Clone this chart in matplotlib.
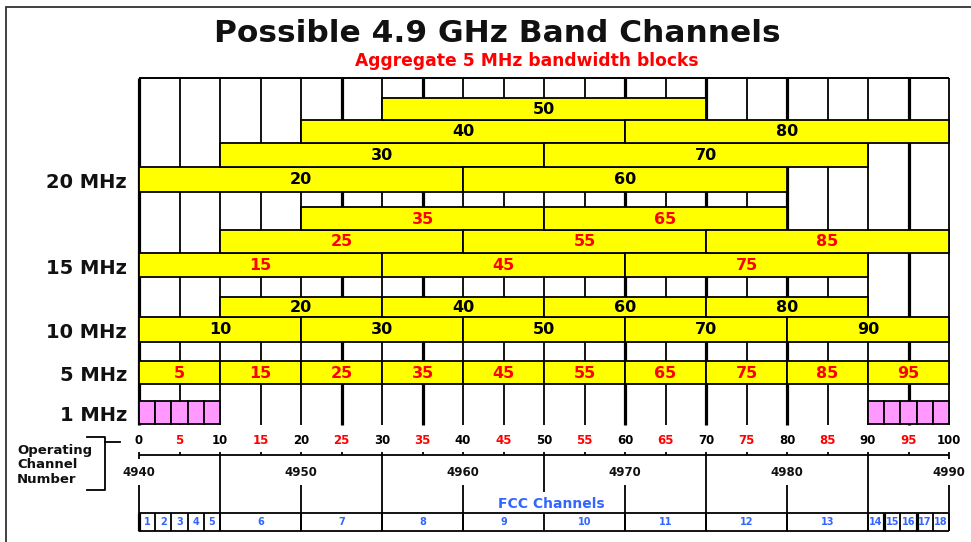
import matplotlib
matplotlib.use('Agg')
import matplotlib.pyplot as plt

plt.rcParams['font.family'] = ['DejaVu Sans']

# ---------------- data ----------------
title = "Possible 4.9 GHz Band Channels"
subtitle = "Aggregate 5 MHz bandwidth blocks"
bw_labels = ["20 MHz", "15 MHz", "10 MHz", "5 MHz", "1 MHz"]
bandwidths_mhz = [20, 15, 10, 5, 1]

ch20 = [20, 30, 40, 50, 60, 70, 80]
ch15 = [15, 25, 35, 45, 55, 65, 75, 85]
ch10 = [10, 20, 30, 40, 50, 60, 70, 80, 90]
ch5 = [5, 15, 25, 35, 45, 55, 65, 75, 85, 95]
ch1 = [1, 3, 5, 7, 9, 91, 93, 95, 97, 99]

op_ticks = [0, 5, 10, 15, 20, 25, 30, 35, 40, 45, 50,
            55, 60, 65, 70, 75, 80, 85, 90, 95, 100]
op_tick_labels = ["0", "5", "10", "15", "20", "25", "30", "35", "40", "45", "50",
                  "55", "60", "65", "70", "75", "80", "85", "90", "95", "100"]
freq_ticks = [0, 20, 40, 60, 80, 100]
freq_labels = ["4940", "4950", "4960", "4970", "4980", "4990"]

fcc_labels = ["1", "2", "3", "4", "5", "6", "7", "8", "9", "10", "11", "12",
              "13", "14", "15", "16", "17", "18"]
fcc_edges = [0, 2, 4, 6, 8, 10, 20, 30, 40, 50, 60, 70, 80, 90,
             92, 94, 96, 98, 100]

# ---------------- style / layout ----------------
YELLOW = "#ffff00"
PINK = "#ff99ff"
RED = "#ff0000"
BLUE = "#3366ff"
X0, PXU = 139.0, 8.1          # pixel of channel 0, pixels per channel


def px(xp):
    return (xp - X0) / PXU


rows20 = [(98, 120), (120, 143), (143, 167), (167, 192)]
rows15 = [(207, 230), (230, 253), (253, 277)]
rows10 = [(297, 317), (317, 342)]
rows5 = [(361, 384)]
rows1 = [(401, 424)]
thick_lines = [0, 25, 35, 60, 70, 80, 95]

fig = plt.figure(figsize=(9.71, 5.42), dpi=100)
ax = fig.add_axes([0, 0, 1, 1])
ax.set_xlim(px(0), px(971))
ax.set_ylim(542, 0)
ax.axis('off')

# outer frame
ax.plot([px(6), px(6), px(975)], [545, 7, 7], color="#333333", lw=1.3,
        solid_joinstyle='miter', zorder=1)

# titles
ax.text(px(497), 33, title, ha='center', va='center', fontsize=22.5,
        weight='bold', color='#111111')
ax.text(px(527), 61, subtitle, ha='center', va='center', fontsize=12.3,
        weight='bold', color=RED)

# grid
grid_x = list(range(0, 101, 5))
for gx in grid_x:
    lw = 2.3 if gx in thick_lines else 1.3
    ax.vlines(gx, 78, 425, color='black', lw=lw, zorder=1)
ax.hlines(78, 0, 100, color='black', lw=1.4, zorder=1)


def draw_bars(chs, width, rows, level_fn, color, txtcolor, labels=True):
    for c in chs:
        top, bot = rows[level_fn(c)]
        ax.barh((top + bot) / 2, width, left=c - width / 2, height=bot - top,
                color=color, edgecolor='black', linewidth=1.3, zorder=3)
        if labels:
            ax.text(c, (top + bot) / 2 + 0.5, str(c), ha='center', va='center',
                    fontsize=11.5, weight='bold', color=txtcolor, zorder=4)


draw_bars(ch20, 2 * 20, rows20, lambda c: 3 - ((c // 10 - 2) % 4), YELLOW, 'black')
draw_bars(ch15, 2 * 15, rows15, lambda c: 2 - (((c - 15) // 10) % 3), YELLOW, RED)
draw_bars(ch10, 2 * 10, rows10, lambda c: 1 - ((c // 10 - 1) % 2), YELLOW, 'black')
draw_bars(ch5, 2 * 5, rows5, lambda c: 0, YELLOW, RED)
draw_bars(ch1, 2 * 1, rows1, lambda c: 0, PINK, 'black', labels=False)

# bandwidth labels
label_rows = [rows20[-1], rows15[-1], rows10[-1], rows5[-1], rows1[-1]]
for lab, (top, bot) in zip(bw_labels, label_rows):
    ax.text(px(127), (top + bot) / 2 + 3, lab, ha='right', va='center',
            fontsize=14, weight='bold', color='#111111')

# operating channel axis
for t, lab in zip(op_ticks, op_tick_labels):
    col = 'black' if t % 10 == 0 else RED
    ax.text(t, 440, lab, ha='center', va='center', fontsize=8.5,
            weight='bold', color=col)
    ax.vlines(t, 452, 455, color='black', lw=1.3)
ax.hlines(455, 0, 100, color='black', lw=1.3)
ax.vlines([0, 100], 455, 459, color='black', lw=1.3)

# frequency labels
for t, lab in zip(freq_ticks, freq_labels):
    ax.text(t, 472, lab, ha='center', va='center', fontsize=8.5,
            weight='bold', color='#111111')
    ax.vlines(t, 485, 531, color='black', lw=1.3)
for t in [10, 30, 70, 90]:
    ax.vlines(t, 455, 531, color='black', lw=1.3)
ax.vlines(50, 455, 492, color='black', lw=1.3)

# FCC channels row
ax.text(px(551), 504, "FCC Channels", ha='center', va='center', fontsize=10,
        weight='bold', color=BLUE)
ax.hlines([513, 531], 0, 100, color='black', lw=1.3)
for e in fcc_edges:
    lw = 2.3 if e in [0, 92, 96] else 1.3
    ax.vlines(e, 513, 531, color='black', lw=lw)
for i, lab in enumerate(fcc_labels):
    cx = (fcc_edges[i] + fcc_edges[i + 1]) / 2
    ax.text(cx, 522, lab, ha='center', va='center', fontsize=7,
            weight='bold', color=BLUE)

# Operating channel number bracket + text
ax.text(px(17), 465, "Operating\nChannel\nNumber", ha='left', va='center',
        fontsize=9.5, weight='bold', color='#111111', linespacing=1.15)
ax.plot([px(87), px(105), px(105), px(87)], [437, 437, 490, 490],
        color='black', lw=1.3)
ax.plot([px(105), px(120)], [442, 442], color='black', lw=1.3)

fig.savefig("out.png", dpi=100)
